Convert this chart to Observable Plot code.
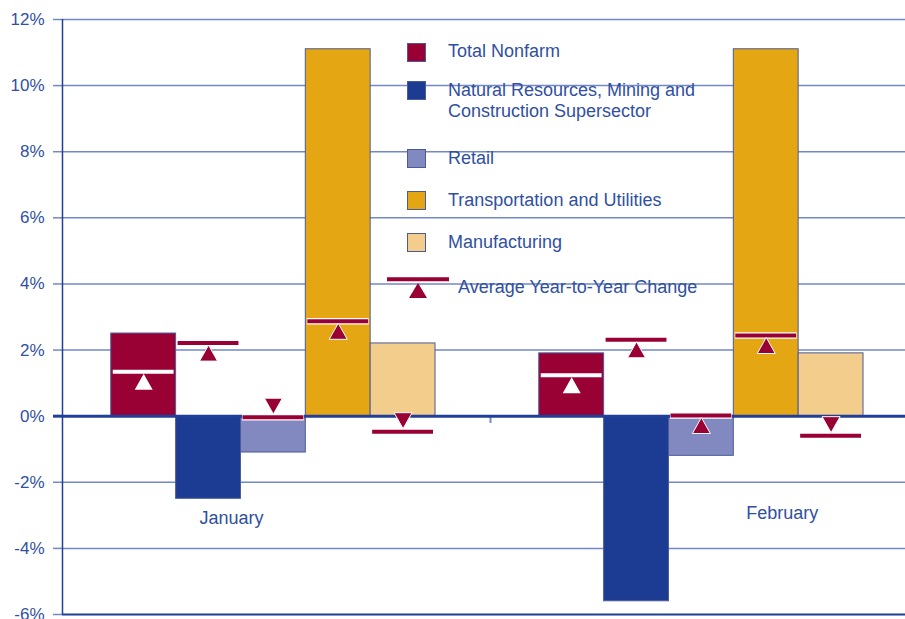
<!DOCTYPE html>
<html>
<head>
<meta charset="utf-8">
<script src="https://cdn.jsdelivr.net/npm/d3@7"></script>
<script src="https://cdn.jsdelivr.net/npm/@observablehq/plot@0.6"></script>
<style>
  html, body { margin: 0; padding: 0; background: white; overflow: hidden; }
  #wrap { position: relative; width: 905px; height: 619px; overflow: hidden; font-family: "Liberation Sans", Arial, sans-serif; }
  #wrap svg { max-width: none !important; display: block; }
  .leg { position: absolute; font-size: 18px; line-height: 21px; color: #30509f; white-space: nowrap; }
  .sw { position: absolute; width: 17px; height: 17px; border: 1px solid #4b5b98; }
</style>
</head>
<body>
<div id="wrap"></div>
<script>
// ---- data ----
const months = ["January", "February"];
const series = [
  "Total Nonfarm",
  "Natural Resources, Mining and Construction Supersector",
  "Retail",
  "Transportation and Utilities",
  "Manufacturing"
];
const januaryValues = [2.5, -2.5, -1.1, 11.1, 2.2];
const februaryValues = [1.9, -5.6, -1.2, 11.1, 1.9];
const januaryAverage = [1.34, 2.21, -0.03, 2.87, -0.47];
const februaryAverage = [1.24, 2.31, 0.02, 2.44, -0.59];
const seriesColors = ["#990033", "#1c3c94", "#8289c0", "#e5a614", "#f2cd8c"];
const yTicks = [-6, -4, -2, 0, 2, 4, 6, 8, 10, 12];
const averageLabel = "Average Year-to-Year Change";
const monthLabels = [
  {month: "January", series: series[1], pct: -3.1},
  {month: "February", series: series[3], pct: -2.93}
];

// ---- tables ----
const valuesByMonth = {January: januaryValues, February: februaryValues};
const avgByMonth = {January: januaryAverage, February: februaryAverage};
const rows = months.flatMap(m => series.map((s, i) => ({month: m, series: s, value: valuesByMonth[m][i], avg: avgByMonth[m][i]})));

const textColor = "#30509f";
const gridColor = "#7388c6";
const axisColor = "#1f3f9a";
const avgColor = "#990033";
const TN = series[0];

const triUp = {draw(ctx) { ctx.moveTo(0, 2); ctx.lineTo(9, 18); ctx.lineTo(-9, 18); ctx.closePath(); }};
const triDown = {draw(ctx) { ctx.moveTo(0, -3); ctx.lineTo(9, -19); ctx.lineTo(-9, -19); ctx.closePath(); }};

const chart = Plot.plot({
  width: 905,
  height: 619,
  marginLeft: 62,
  marginRight: -13,
  marginTop: 19,
  marginBottom: 5,
  style: {fontFamily: "'Liberation Sans', Arial, sans-serif", fontSize: "17px", color: textColor, background: "white"},
  fx: {domain: months, padding: 0, axis: null},
  x: {domain: series, paddingInner: 0, paddingOuter: 0.8, align: 0.47, round: false, axis: null},
  y: {domain: [-6, 12], axis: null},
  color: {domain: series, range: seriesColors},
  marks: [
    Plot.ruleY(yTicks.filter(t => t !== -6 && t !== 0), {stroke: gridColor, strokeWidth: 1.5}),
    Plot.ruleY([-6], {stroke: axisColor, strokeWidth: 2}),
    Plot.axisY({ticks: yTicks, tickSize: 9, tickPadding: 9, tickFormat: d => d + "%", stroke: gridColor, strokeWidth: 1.5, fill: textColor, fontSize: 17, label: null}),
    Plot.ruleX(["January"], {fx: d => d, x: () => series[0], dx: -81.2, stroke: axisColor, strokeWidth: 1.5}),
    Plot.ruleX(["February"], {fx: d => d, x: () => series[0], dx: -81.2, y1: 0, y2: -0.22, stroke: gridColor, strokeWidth: 2}),
    Plot.barY(rows, {fx: "month", x: "series", y: "value", fill: "series", stroke: "#4b5b98", strokeWidth: 1}),
    Plot.ruleY([0], {stroke: axisColor, strokeWidth: 3}),
    Plot.axisY({ticks: [0], tickSize: 9, tickFormat: () => "", stroke: axisColor, strokeWidth: 3, label: null}),
    // average lines
    Plot.tickY(rows.filter(d => d.series !== TN), {fx: "month", x: "series", y: "avg", stroke: "white", strokeWidth: 6.5, insetLeft: 1.5, insetRight: 1.5}),
    Plot.tickY(rows.filter(d => d.series !== TN), {fx: "month", x: "series", y: "avg", stroke: avgColor, strokeWidth: 4, insetLeft: 2, insetRight: 2}),
    Plot.tickY(rows.filter(d => d.series === TN), {fx: "month", x: "series", y: "avg", stroke: "white", strokeWidth: 4, insetLeft: 2, insetRight: 2}),
    // triangles
    Plot.dot(rows.filter(d => d.series !== TN && d.avg >= 0), {fx: "month", x: "series", y: "avg", symbol: triUp, fill: avgColor, stroke: "white", strokeWidth: 1}),
    Plot.dot(rows.filter(d => d.series !== TN && d.avg < 0), {fx: "month", x: "series", y: "avg", symbol: triDown, fill: avgColor, stroke: "white", strokeWidth: 1}),
    Plot.dot(rows.filter(d => d.series === TN), {fx: "month", x: "series", y: "avg", symbol: triUp, fill: "white"}),
    // month labels
    Plot.text(monthLabels.filter(d => d.month === "January"), {fx: "month", x: "series", y: "pct", text: "month", dx: 23, fill: textColor, fontSize: 18}),
    Plot.text(monthLabels.filter(d => d.month === "February"), {fx: "month", x: "series", y: "pct", text: "month", dx: 16, fill: textColor, fontSize: 18})
  ]
});

const wrap = document.getElementById("wrap");
wrap.appendChild(chart);

// ---- legend (inside plot area, as in the original) ----
const legendRows = [
  {center: 52, textCenter: 51.7, lines: 1},
  {center: 90, textCenter: 100.5, lines: 2},
  {center: 158.3, textCenter: 158.3, lines: 1},
  {center: 200.5, textCenter: 200.7, lines: 1},
  {center: 242.5, textCenter: 242.3, lines: 1}
];
const nrText = ["Natural Resources, Mining and", "Construction Supersector"];
series.forEach((s, i) => {
  const r = legendRows[i];
  const sw = document.createElement("div");
  sw.className = "sw";
  sw.style.left = "407px";
  sw.style.top = (r.center - 9.5) + "px";
  sw.style.background = seriesColors[i];
  wrap.appendChild(sw);
  const t = document.createElement("div");
  t.className = "leg";
  t.style.left = "448px";
  t.style.top = (r.textCenter - 10.5 * r.lines) + "px";
  t.innerHTML = i === 1 ? nrText.join("<br>") : s;
  wrap.appendChild(t);
});
const avgSym = document.createElementNS("http://www.w3.org/2000/svg", "svg");
avgSym.setAttribute("width", "62");
avgSym.setAttribute("height", "24");
avgSym.style.position = "absolute";
avgSym.style.left = "387px";
avgSym.style.top = "276px";
avgSym.innerHTML = `<line x1="0" x2="62" y1="3.3" y2="3.3" stroke="${avgColor}" stroke-width="4"/><path d="M31,7L40,22L22,22Z" fill="${avgColor}"/>`;
wrap.appendChild(avgSym);
const avgText = document.createElement("div");
avgText.className = "leg";
avgText.style.left = "458px";
avgText.style.top = (287.7 - 10.5) + "px";
avgText.textContent = averageLabel;
wrap.appendChild(avgText);
</script>
</body>
</html>
